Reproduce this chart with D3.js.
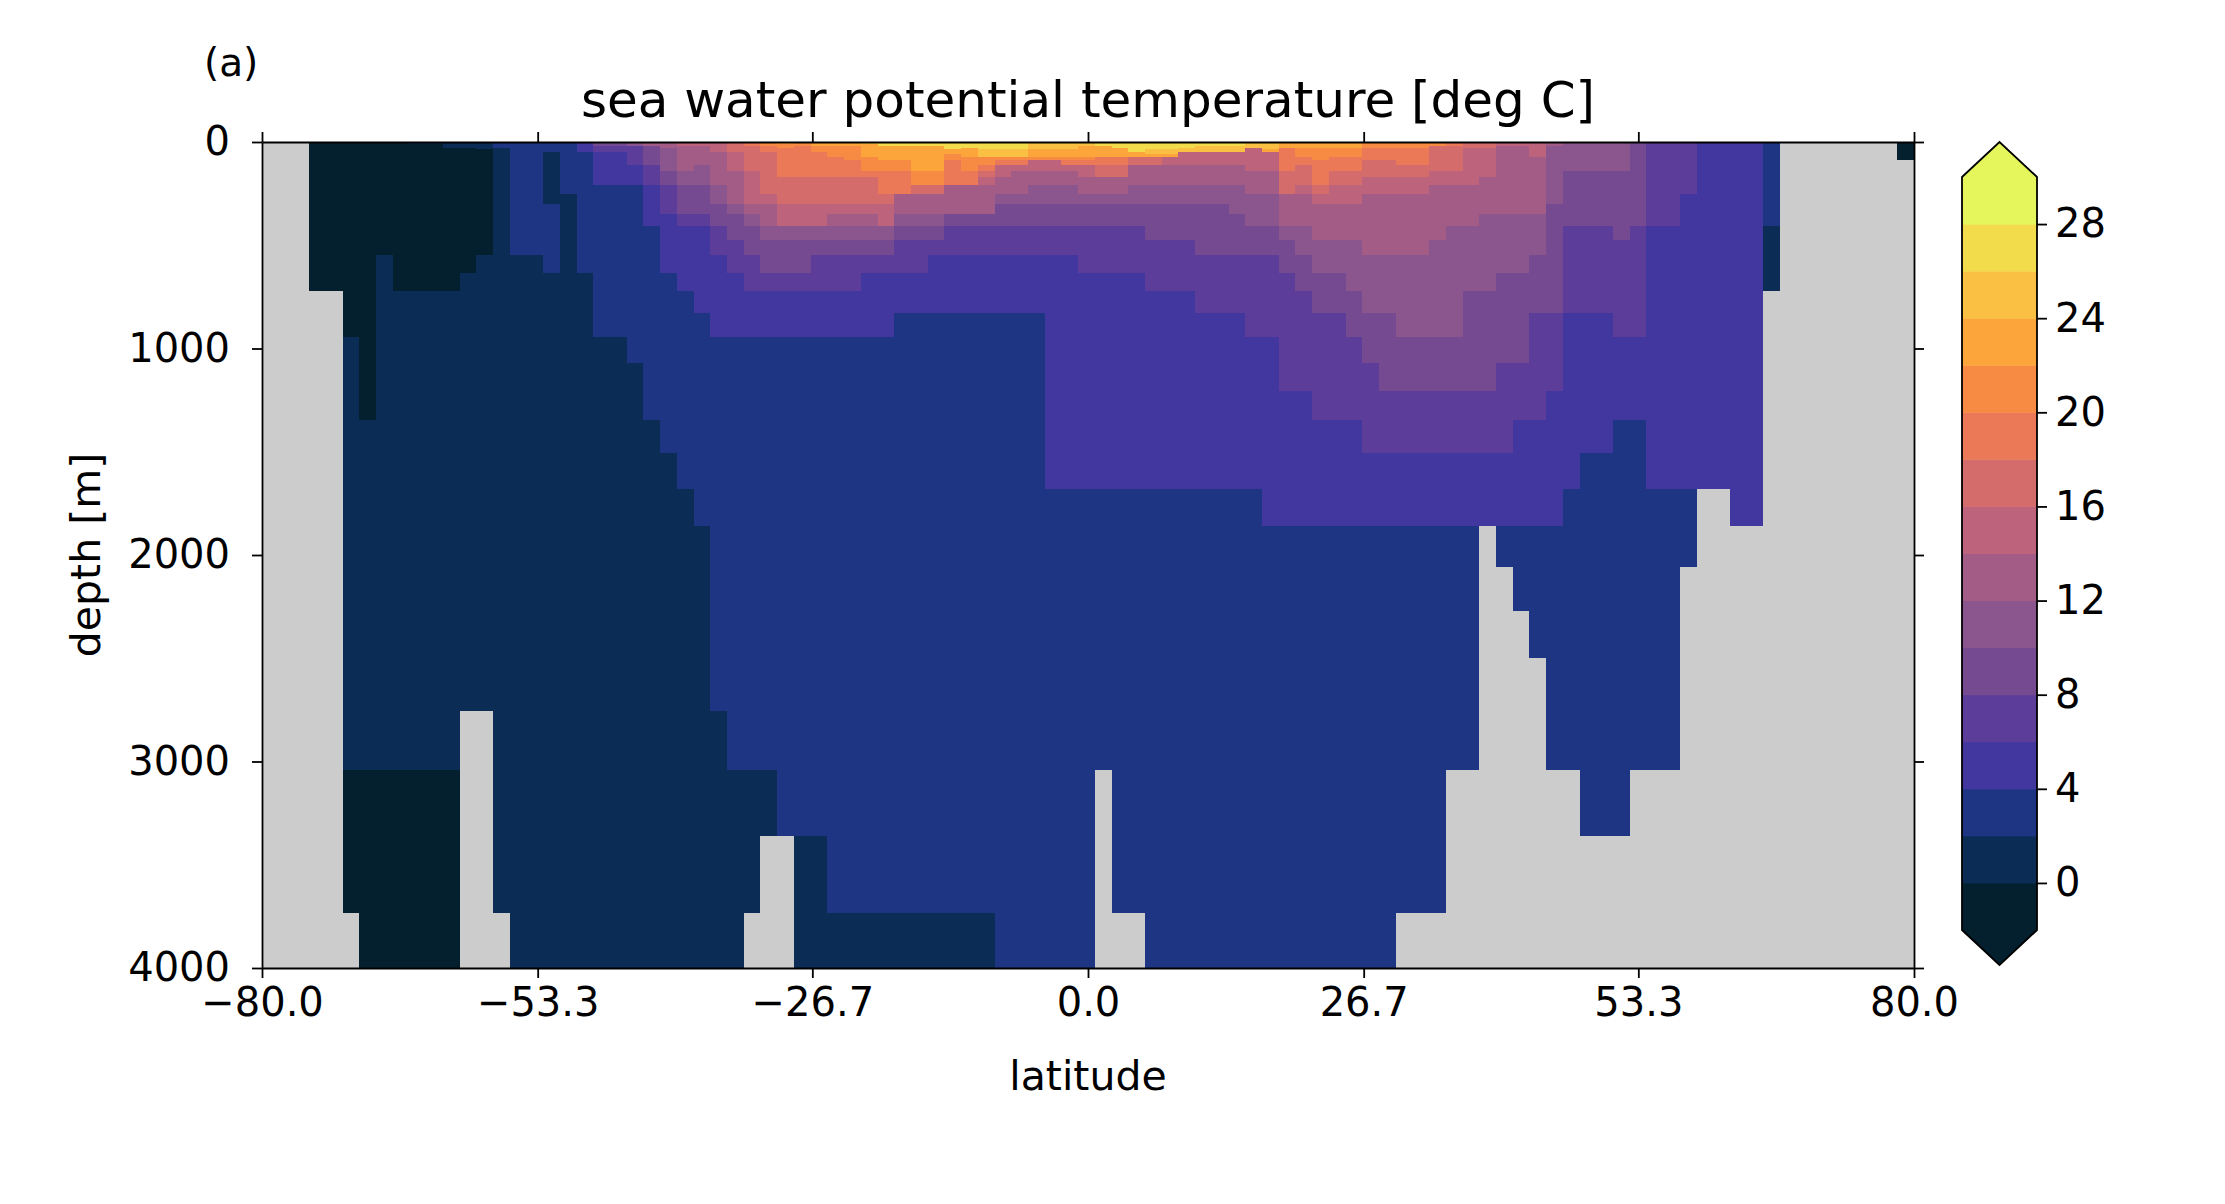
<!DOCTYPE html>
<html>
<head>
<meta charset="utf-8">
<script src="https://cdn.jsdelivr.net/npm/d3@7"></script>
<style>
  body { margin: 0; background: #fff; }
  text { font-family: "DejaVu Sans", sans-serif; fill: #000; }
</style>
</head>
<body>
<svg id="chart" width="2225" height="1204"></svg>
<script>
// depth level edges [m]
var depthEdges = [0, 8, 17, 27, 36, 47, 60, 74, 89, 113, 142, 170, 209, 252, 300, 348, 406, 473, 545,
    632, 723, 829, 945, 1070, 1204, 1348, 1507, 1680, 1860, 2057, 2270, 2500, 2755, 3040, 3360, 3735, 4000];

// latitude grid: first edge and cell width [deg]
var latFirstEdge = -80.29, latCell = 1.619;

// temperature levels of the filled bands and their colours
var levels = [-2, 0, 2, 4, 6, 8, 10, 12, 14, 16, 18, 20, 22, 24, 26, 28, 30];
var bandColors = ["#04202f", "#0a2c55", "#1e3583", "#42369f", "#5c3d99", "#764a91", "#8b558d", "#a35c86",
    "#bd637b", "#d46c6c", "#eb7958", "#f78b43", "#fca53b", "#f9c043", "#f2dc4b", "#e5f65c"];
var landColor = "#cccccc";

// per latitude column: "band:endRow" runs from the surface down ("." = land)
var columns = [
    ".:36", ".:36", ".:36", "0:20 .:36", "0:20 .:36",
    "0:22 1:33 0:35 .:36", "0:25 1:33 0:36", "0:18 1:33 0:36", "0:20 1:33 0:36", "1:1 0:20 1:33 0:36",
    "1:1 0:20 1:33 0:36", "1:3 0:20 1:33 0:36", "1:3 0:19 1:32 .:36", "1:4 0:18 1:32 .:36", "2:3 1:35 .:36",
    "2:18 1:36", "2:18 1:36", "2:5 1:14 2:19 1:36", "2:13 1:36", "3:5 2:19 1:36",
    "5:2 4:5 3:12 2:22 1:36", "5:2 4:5 3:12 2:22 1:36", "6:2 4:9 3:12 2:23 1:36",
    "7:2 5:9 4:12 3:16 2:25 1:36", "7:3 6:10 5:12 4:15 3:19 2:26 1:36",
    "8:2 7:10 6:12 5:15 4:16 3:20 2:27 1:36", "8:2 7:9 6:12 5:15 4:16 3:21 2:28 1:36",
    "8:5 7:12 6:14 5:16 4:18 3:22 2:32 1:36", "9:5 8:10 7:14 6:15 5:17 4:19 3:22 2:33 1:36",
    "a:2 9:10 8:14 7:15 6:16 5:18 4:20 3:22 2:33 1:35 .:36",
    "b:2 a:5 9:13 8:14 7:16 6:17 5:19 4:20 3:22 2:33 1:34 .:36",
    "c:1 b:3 a:11 9:14 8:16 6:17 5:19 4:20 3:22 2:34 .:36",
    "b:2 a:11 9:14 8:16 6:17 5:19 4:20 3:22 2:34 1:36",
    "c:2 b:5 a:11 9:14 8:16 6:17 5:18 4:20 3:22 2:34 1:36",
    "c:2 b:7 a:11 9:14 8:15 7:16 6:17 5:18 4:20 3:22 2:35 1:36",
    "c:2 b:8 a:11 9:14 8:15 7:16 6:17 5:18 4:20 3:22 2:35 1:36",
    "d:1 c:7 b:10 a:11 9:14 8:15 7:16 6:17 5:18 4:19 3:22 2:35 1:36",
    "e:2 c:8 b:10 a:13 9:14 8:16 6:17 5:18 4:19 3:22 2:35 1:36",
    "e:2 c:8 b:10 a:13 7:15 6:16 5:17 4:19 3:21 2:35 1:36",
    "e:2 c:10 b:12 9:13 7:15 6:16 5:17 4:19 3:21 2:35 1:36",
    "e:2 c:10 b:12 9:13 7:15 6:16 5:17 4:18 3:21 2:35 1:36",
    "e:4 c:6 b:8 a:12 7:15 5:16 4:18 3:21 2:35 1:36",
    "e:3 c:7 b:10 a:12 7:15 5:16 4:18 3:21 2:35 1:36",
    "e:4 d:7 b:9 a:10 9:11 8:12 7:15 5:16 4:18 3:21 2:35 1:36",
    "e:4 d:7 b:8 a:9 8:11 7:13 6:14 5:16 4:18 3:21 2:36",
    "e:4 d:7 b:8 a:9 8:10 7:13 6:14 5:16 4:18 3:21 2:36",
    "d:4 c:7 b:8 8:10 7:12 6:14 5:16 4:18 3:21 2:36",
    "d:4 c:7 b:8 8:10 7:12 6:14 5:16 4:18 3:27 2:36",
    "d:4 c:7 b:8 a:9 8:10 7:12 6:14 5:16 4:18 3:27 2:36",
    "d:2 c:7 b:8 a:9 8:11 7:13 6:14 5:16 4:19 3:27 2:36",
    "e:2 c:7 a:9 9:11 7:13 6:14 5:16 4:19 3:27 2:33 .:36",
    "e:3 c:7 a:9 9:11 7:13 6:14 5:16 4:19 3:27 2:35 .:36",
    "e:5 c:7 9:9 7:12 6:14 5:16 4:19 3:27 2:35 .:36",
    "e:4 d:6 c:7 9:9 7:12 6:14 5:17 4:20 3:27 2:36",
    "e:4 d:6 c:7 8:9 7:12 6:14 5:17 4:20 3:27 2:36",
    "e:3 d:5 8:9 7:12 6:14 5:17 4:20 3:27 2:36",
    "e:2 d:5 8:9 7:12 6:14 5:18 4:21 3:27 2:36",
    "e:2 d:5 8:9 7:12 6:14 5:18 4:21 3:27 2:36",
    "e:2 d:5 8:9 7:12 6:15 5:18 4:21 3:27 2:36",
    "d:3 8:10 7:13 6:16 5:18 4:22 3:27 2:36",
    "d:4 c:5 8:10 7:13 6:16 5:18 4:22 3:28 2:36",
    "c:3 a:10 9:13 7:16 6:17 5:19 4:24 3:28 2:36",
    "c:3 b:7 a:9 9:12 8:13 7:16 6:18 5:20 4:24 3:28 2:36",
    "c:3 b:8 a:12 9:13 8:14 7:17 6:19 5:21 4:25 3:28 2:36",
    "c:3 b:7 a:10 9:12 8:14 7:17 6:19 5:21 4:25 3:28 2:36",
    "c:3 b:7 a:10 9:12 8:14 7:17 6:20 5:22 4:25 3:28 2:36",
    "b:3 a:8 9:11 8:13 7:18 6:21 5:23 4:26 3:28 2:36",
    "b:3 a:8 9:11 8:13 7:18 6:21 5:24 4:26 3:28 2:36",
    "b:3 a:9 9:11 8:13 7:18 6:22 5:24 4:26 3:28 2:35 .:36",
    "b:3 a:9 9:11 8:13 7:18 6:22 5:24 4:26 3:28 2:35 .:36",
    "b:2 9:10 8:12 7:17 6:22 5:24 4:26 3:28 2:35 .:36",
    "a:2 9:10 8:12 7:16 6:22 5:24 4:26 3:28 2:33 .:36",
    "9:3 8:12 7:16 6:20 5:24 4:26 3:28 2:33 .:36",
    "9:3 8:11 7:15 6:20 5:24 4:26 3:28 .:36",
    "8:2 7:15 6:19 5:23 4:26 3:28 2:29 .:36",
    "8:2 7:15 6:19 5:23 4:25 3:28 2:30 .:36",
    "8:7 7:15 6:18 5:21 4:25 3:28 2:31 .:36",
    "7:2 6:14 5:21 4:24 3:28 2:33 .:36",
    "6:10 5:16 4:21 3:27 2:33 .:36",
    "6:10 5:16 4:21 3:26 2:34 .:36",
    "6:10 5:16 4:21 3:26 2:34 .:36",
    "6:10 5:17 4:22 3:25 2:34 .:36",
    "5:16 4:22 3:25 2:33 .:36",
    "4:16 3:27 2:33 .:36",
    "4:16 3:27 2:33 .:36",
    "4:13 3:27 2:29 .:36",
    "3:27 .:36", "3:27 .:36", "3:28 .:36", "3:28 .:36",
    "2:16 1:20 .:36",
    ".:36", ".:36", ".:36", ".:36", ".:36", ".:36", ".:36",
    "0:8 .:36", ".:36"
];

var xTicks = [-80, -53.3, -26.7, 0, 26.7, 53.3, 80];
var yTicks = [0, 1000, 2000, 3000, 4000];
var cbTicks = [0, 4, 8, 12, 16, 20, 24, 28];

var svg = d3.select("#chart");
var margin = {left: 262, top: 142, right: 1914, bottom: 968};

var x = d3.scaleLinear().domain([-80, 80]).range([margin.left, margin.right]);
var y = d3.scaleLinear().domain([0, 4000]).range([margin.top, margin.bottom]);

// build cells
var cells = [];
columns.forEach(function (col, i) {
    var start = 0;
    col.split(" ").forEach(function (run) {
        var p = run.split(":"), end = +p[1];
        for (var r = start; r < end; r++) {
            cells.push({
                lat0: Math.max(-80, latFirstEdge + i * latCell),
                lat1: Math.min(80, latFirstEdge + (i + 1) * latCell),
                d0: depthEdges[r], d1: depthEdges[r + 1],
                band: p[0] == "." ? -1 : parseInt(p[0], 16)
            });
        }
        start = end;
    });
});

svg.append("g").attr("shape-rendering", "crispEdges").selectAll("rect")
    .data(cells.filter(function (d) { return d.lat1 > d.lat0; }))
    .enter().append("rect")
    .attr("x", function (d) { return x(d.lat0); })
    .attr("y", function (d) { return y(d.d0); })
    .attr("width", function (d) { return x(d.lat1) - x(d.lat0) + 0.6; })
    .attr("height", function (d) { return y(d.d1) - y(d.d0) + 0.6; })
    .attr("fill", function (d) { return d.band < 0 ? landColor : bandColors[d.band]; });
// land beyond the last column
svg.append("rect").attr("x", x(latFirstEdge + columns.length * latCell)).attr("y", y(0))
    .attr("width", Math.max(0, x(80) - x(latFirstEdge + columns.length * latCell)))
    .attr("height", y(4000) - y(0)).attr("fill", landColor);

// axes
var fmtX = function (d) { return d3.format(".1f")(d).replace("-", "\u2212"); };
function styleAxis(g) {
    g.selectAll("path").attr("stroke-width", 1.8);
    g.selectAll("line").attr("stroke-width", 1.8);
    g.selectAll("text").style("font-size", "40px").style("font-family", "DejaVu Sans");
}
svg.append("g").attr("transform", "translate(0," + margin.bottom + ")")
    .call(d3.axisBottom(x).tickValues(xTicks).tickFormat(fmtX).tickSize(10).tickPadding(10).tickSizeOuter(0))
    .call(styleAxis);
svg.append("g").attr("transform", "translate(0," + margin.top + ")")
    .call(d3.axisTop(x).tickValues(xTicks).tickFormat("").tickSize(10).tickSizeOuter(0))
    .call(styleAxis);
svg.append("g").attr("transform", "translate(" + margin.left + ",0)")
    .call(d3.axisLeft(y).tickValues(yTicks).tickFormat(d3.format("d")).tickSize(10).tickPadding(22).tickSizeOuter(0))
    .call(styleAxis);
svg.append("g").attr("transform", "translate(" + margin.right + ",0)")
    .call(d3.axisRight(y).tickValues(yTicks).tickFormat("").tickSize(10).tickSizeOuter(0))
    .call(styleAxis);

// labels
svg.append("text").attr("x", (margin.left + margin.right) / 2).attr("y", 117)
    .attr("text-anchor", "middle").style("font-size", "50px")
    .text("sea water potential temperature [deg C]");
svg.append("text").attr("x", 204).attr("y", 76).style("font-size", "39px").text("(a)");
svg.append("text").attr("x", (margin.left + margin.right) / 2).attr("y", 1090)
    .attr("text-anchor", "middle").style("font-size", "41px").text("latitude");
svg.append("text").attr("transform", "translate(100," + ((margin.top + margin.bottom) / 2) + ") rotate(-90)")
    .attr("text-anchor", "middle").style("font-size", "41px").text("depth [m]");

// colorbar
var cbX0 = 1962, cbX1 = 2037, cbTop = 177, cbBot = 930, tip = 35;
var cy = d3.scaleLinear().domain([-2, 30]).range([cbBot, cbTop]);
var cb = svg.append("g");
cb.selectAll("rect").data(bandColors).enter().append("rect")
    .attr("x", cbX0).attr("width", cbX1 - cbX0)
    .attr("y", function (d, i) { return cy(levels[i + 1]); })
    .attr("height", function (d, i) { return cy(levels[i]) - cy(levels[i + 1]) + 0.5; })
    .attr("fill", function (d) { return d; });
var mid = (cbX0 + cbX1) / 2;
cb.append("path").attr("d", "M" + cbX0 + "," + cbTop + "L" + mid + "," + (cbTop - tip) + "L" + cbX1 + "," + cbTop + "Z")
    .attr("fill", bandColors[bandColors.length - 1]);
cb.append("path").attr("d", "M" + cbX0 + "," + cbBot + "L" + mid + "," + (cbBot + tip) + "L" + cbX1 + "," + cbBot + "Z")
    .attr("fill", bandColors[0]);
cb.append("path")
    .attr("d", "M" + cbX0 + "," + cbTop + "L" + mid + "," + (cbTop - tip) + "L" + cbX1 + "," + cbTop +
        "L" + cbX1 + "," + cbBot + "L" + mid + "," + (cbBot + tip) + "L" + cbX0 + "," + cbBot + "Z")
    .attr("fill", "none").attr("stroke", "#000").attr("stroke-width", 1.8);
svg.append("g").attr("transform", "translate(" + cbX1 + ",0)")
    .call(d3.axisRight(cy).tickValues(cbTicks).tickFormat(d3.format("d")).tickSize(10).tickPadding(8))
    .call(styleAxis)
    .select(".domain").remove();
</script>
</body>
</html>
